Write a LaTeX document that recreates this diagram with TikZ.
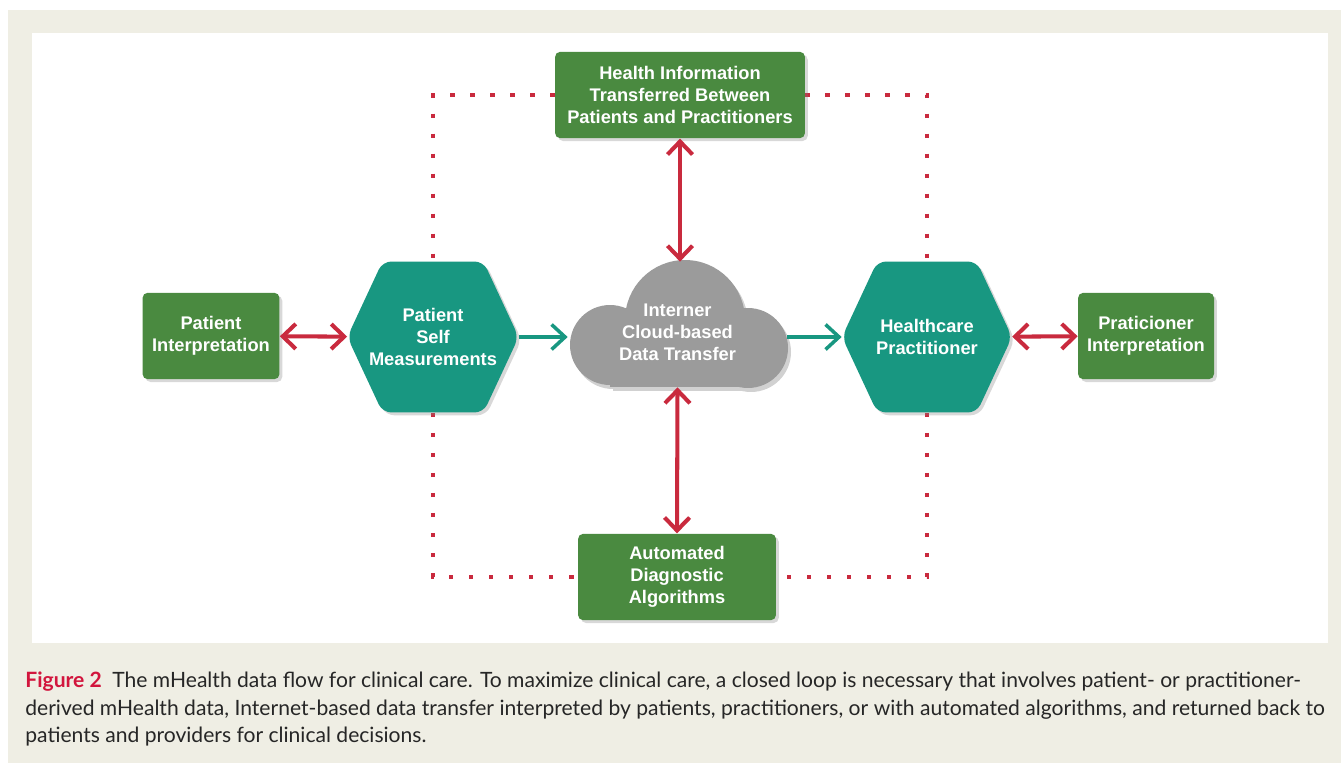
\documentclass[tikz,border=0pt]{standalone}
\usepackage{fontspec}
\setmainfont{Liberation Sans}
\newfontfamily\capfont{Lato}
\usetikzlibrary{positioning,arrows.meta,shapes.symbols,shadows,backgrounds}

\definecolor{boxgreen}{HTML}{4A8A40}
\definecolor{hexteal}{HTML}{189781}
\definecolor{linkred}{HTML}{C92A3E}
\definecolor{cloudgray}{HTML}{9B9B9B}
\definecolor{pagebeige}{HTML}{EFEEE4}
\definecolor{figred}{HTML}{D2153D}

\begin{document}
\begin{tikzpicture}[
  x=0.02cm, y=-0.02cm,
  txt/.style={font=\bfseries\fontsize{10.4}{12.5}\selectfont, text=white, align=center},
  sombra/.style={drop shadow={shadow xshift=1.6pt, shadow yshift=-1.6pt, opacity=.3}},
  box/.style={txt, sombra, fill=boxgreen, rounded corners=3pt, minimum width=#1,
              minimum height=1.73cm, inner sep=2pt},
  hexa/.style={txt, sombra, fill=hexteal, signal, signal to=west and east,
               signal pointer angle=130, rounded corners=5pt,
               minimum width=3.4cm, minimum height=3.02cm, inner ysep=1pt, inner xsep=-0.27cm},
  duplo/.style={{Straight Barb[length=2.6mm,width=5mm]}-{Straight Barb[length=2.6mm,width=5mm]},
                line width=2.3pt, linkred},
  seta/.style={-{Straight Barb[length=2.7mm,width=5mm]}, line width=2pt, hexteal},
  pontos/.style={linkred, line width=2.4pt, dash pattern=on 2.4pt off 9pt},
]
\useasboundingbox (0,0) rectangle (1341,763);

% ---- Linha central
\node[box=2.74cm] (pint) at (211,336) {Patient\\ Interpretation};
\node[hexa] (selfm) at (433,337) {Patient\\ Self\\ Measurements};
\node[hexa] (hcp) at (927,337) {Healthcare\\ Practitioner};
\node[box=2.72cm] (prin) at (1146,336) {Praticioner\\ Interpretation};

% ---- Nuvem
\fill[black!18] (613,349) circle (0.8cm) (751,352) circle (0.8cm) (688,324) circle (1.2cm);
\fill[black!18] (613,344) rectangle (751,391);
\fill[cloudgray] (610,345) circle (0.8cm) (748,348) circle (0.8cm) (685,320) circle (1.2cm);
\fill[cloudgray] (610,340) rectangle (748,387);
\node[minimum width=4.38cm, minimum height=2.5cm,
      label={[txt, yshift=-0.16cm]center:Interner\\ Cloud-based\\ Data Transfer}] (cloud) at (677.5,324.5) {};

% ---- Caixas de cima e de baixo
\node[box=5cm] (info) at (680,95) {Health Information\\ Transferred Between\\ Patients and Practitioners};
\node[box=3.96cm] (algo) at (677,577) {Automated\\ Diagnostic\\ Algorithms};

% ---- Setas
\draw[duplo] (pint) -- (selfm);
\draw[duplo] (hcp) -- (prin);
\draw[duplo] (info.south) -- (info.south |- cloud.north);
\draw[duplo] (cloud.south) -- (algo.north);
\draw[seta] (selfm.east) -- (selfm.east -| cloud.west);
\draw[seta] (cloud.east |- hcp.west) -- (hcp.west);

% ---- Fundo e laco pontilhado
\begin{scope}[on background layer]
  \fill[pagebeige] (8,10) rectangle (1341,763);
  \fill[white] (32,33) rectangle (1328,643);
  \draw[pontos] (info.west) -| (selfm.north);
  \draw[pontos] (info.east) -| (hcp.north);
  \draw[pontos] (selfm.south) |- (algo.west);
  \draw[pontos] (hcp.south) |- (algo.east);
\end{scope}

% ---- Legenda
\node[anchor=north west, inner sep=0pt, align=left, text=black!85,
      font=\capfont\fontsize{12}{15.5}\selectfont] (legenda) at (25,672)
  {{\color{figred}\bfseries Figure 2}\enspace The mHealth data flow for clinical care. To maximize clinical care, a closed loop is necessary that involves patient- or practitioner-\\
   derived mHealth data, Internet-based data transfer interpreted by patients, practitioners, or with automated algorithms, and returned back to\\
   patients and providers for clinical decisions.};
\end{tikzpicture}
\end{document}
